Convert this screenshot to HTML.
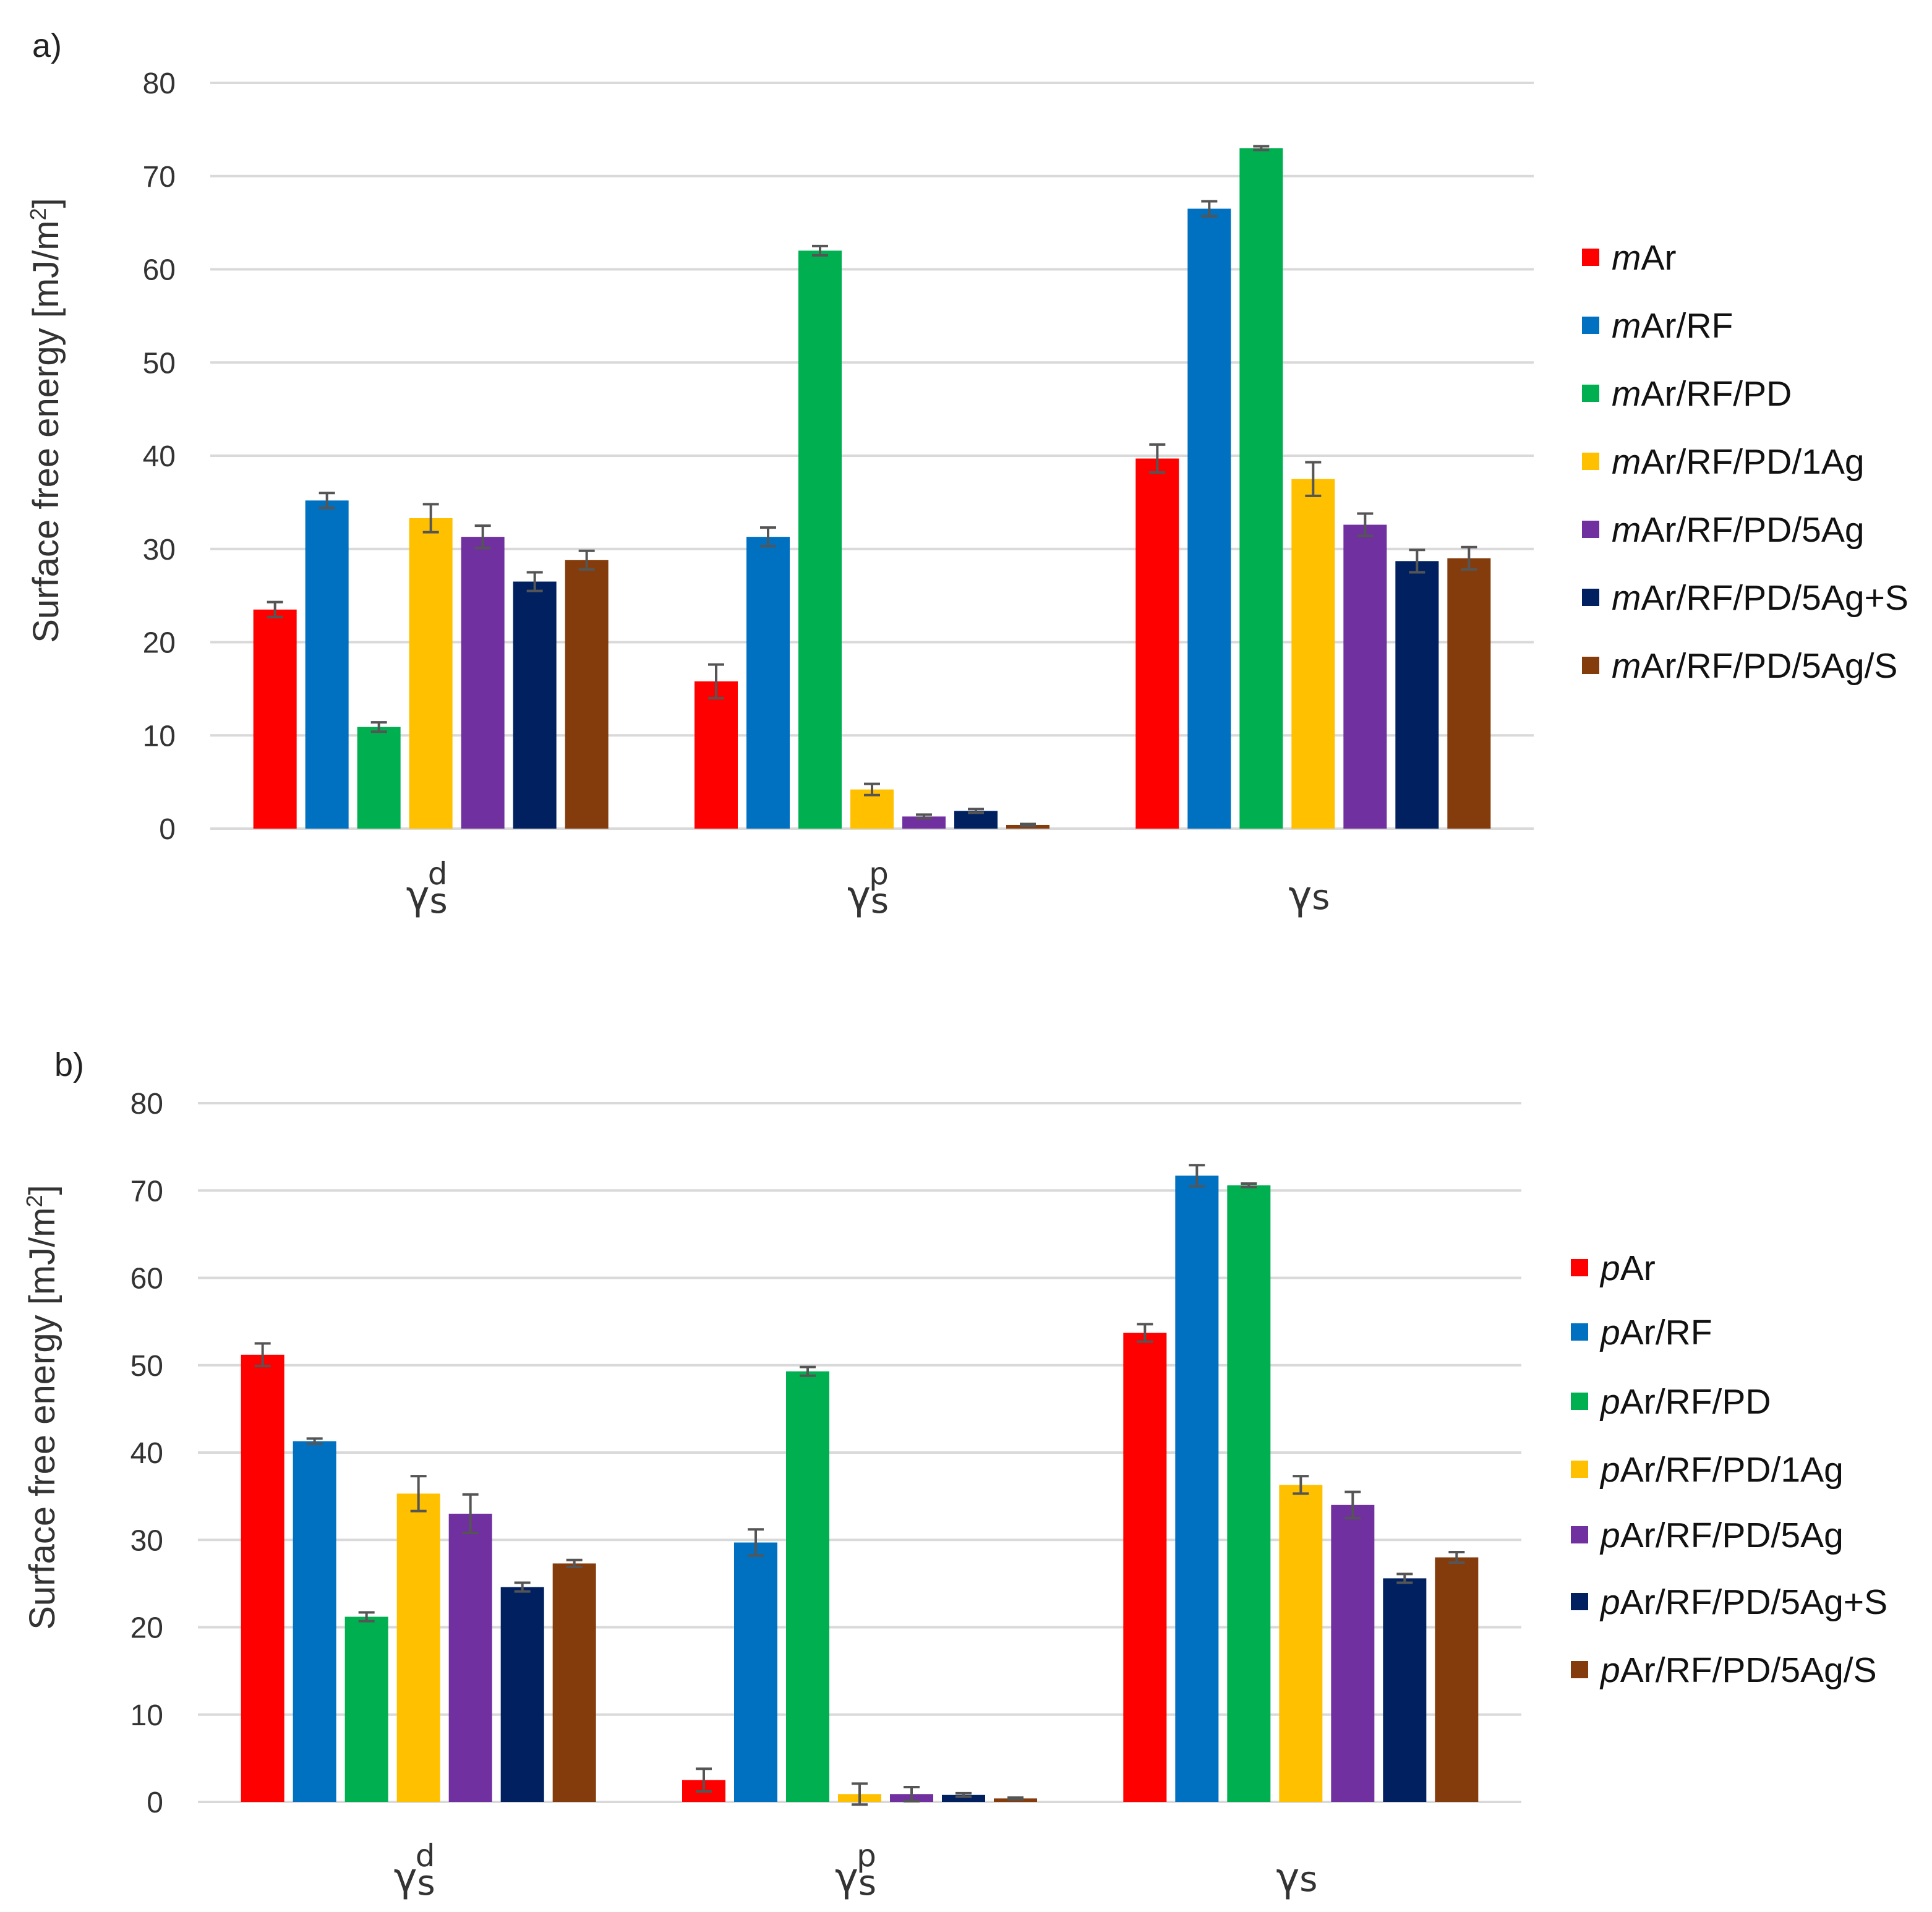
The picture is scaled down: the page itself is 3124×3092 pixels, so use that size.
<!DOCTYPE html>
<html><head><meta charset="utf-8"><style>
html,body{margin:0;padding:0;background:#fff;}
svg{display:block;font-family:"Liberation Sans",sans-serif;}
</style></head><body>
<svg id="chart" width="3124" height="3092" viewBox="0 0 3124 3092" xmlns="http://www.w3.org/2000/svg">
<rect width="3124" height="3092" fill="#fff"/>
<text x="52" y="92" font-size="54" fill="#222">a)</text>
<text x="88" y="1740" font-size="54" fill="#222">b)</text>
</svg>
<script>
const categories = ["d", "p", ""];
const colors = ["#ff0000","#0070c0","#00b050","#ffc000","#7030a0","#002060","#843c0c"];
const seriesSuffix = ["", "/RF", "/RF/PD", "/RF/PD/1Ag", "/RF/PD/5Ag", "/RF/PD/5Ag+S", "/RF/PD/5Ag/S"];
const yTicks = [0,10,20,30,40,50,60,70,80];
// panel a values [series][category]
const valuesA = [[23.5,15.8,39.7],[35.2,31.3,66.5],[10.9,62.0,73.0],[33.3,4.2,37.5],[31.3,1.3,32.6],[26.5,1.9,28.7],[28.8,0.4,29.0]];
const errorsA = [[0.8,1.8,1.5],[0.8,1.0,0.8],[0.5,0.5,0.2],[1.5,0.6,1.8],[1.2,0.2,1.2],[1.0,0.2,1.2],[1.0,0.1,1.2]];
const valuesB = [[51.2,2.5,53.7],[41.3,29.7,71.7],[21.2,49.3,70.6],[35.3,0.9,36.3],[33.0,0.9,34.0],[24.6,0.8,25.6],[27.3,0.4,28.0]];
const errorsB = [[1.3,1.3,1.0],[0.3,1.5,1.2],[0.5,0.5,0.2],[2.0,1.2,1.0],[2.2,0.8,1.5],[0.5,0.2,0.5],[0.4,0.1,0.6]];

const NS = "http://www.w3.org/2000/svg";
const svg = document.getElementById("chart");
function mk(tag, attrs, parent){const e=document.createElementNS(NS,tag);for(const k in attrs)e.setAttribute(k,attrs[k]);(parent||svg).appendChild(e);return e;}

function panel(cfg){
  const g = mk("g",{});
  
  
  const y = v => cfg.y0 - (v/80)*(cfg.y0-cfg.y80);
  const band = (cfg.x1-cfg.x0)/categories.length;
  const xc = i => cfg.x0 + band*(i+0.5);
  const bw = 70, step = 84;
  yTicks.forEach(t=>{
    const l = mk("line",{x1:cfg.x0,x2:cfg.x1,y1:y(t),y2:y(t),stroke:"#d9d9d9","stroke-width":4},g);
    
    
    const tx = mk("text",{x:cfg.x0-56,y:y(t)+17,"font-size":48,"text-anchor":"end",fill:"#333"},g);
    tx.textContent = t;
    
    
  });
  const yt = mk("text",{transform:`translate(${cfg.titleX},${cfg.titleY}) rotate(-90)`,"font-size":58,"text-anchor":"middle",fill:"#333"},g);
  yt.innerHTML = 'Surface free energy [mJ/m<tspan dy="-20" font-size="36">2</tspan><tspan dy="20">]</tspan>';
  
  
  cfg.values.forEach((ser,s)=>{
    ser.forEach((v,c)=>{
      const cx = xc(c) + (s-3)*step;
      const r = mk("rect",{x:cx-bw/2,y:y(v),width:bw,height:y(0)-y(v),fill:colors[s]},g);
      
      
      const e = cfg.errors[s][c];
      const eb = mk("path",{d:`M${cx} ${y(v+e)}V${y(v-e)}M${cx-13} ${y(v+e)}H${cx+13}M${cx-13} ${y(v-e)}H${cx+13}`,stroke:"#555","stroke-width":4,fill:"none"},g);
      
      
    });
  });
  categories.forEach((sup,i)=>{
    const t = mk("text",{x:xc(i)-40,y:cfg.labelY,"font-size":64,fill:"#333","font-family":"DejaVu Sans, sans-serif"},g);
    if(sup) t.innerHTML = `γ<tspan dy="6" font-size="56">s</tspan><tspan dx="-32" dy="-46" font-size="50">${sup}</tspan>`;
    else t.innerHTML = `γ<tspan font-size="56">s</tspan>`;
    
    
  });
  cfg.legendY.forEach((ly,s)=>{
    const sq = mk("rect",{x:cfg.legX,y:ly-14,width:28,height:28,fill:colors[s]},g);
    
    
    const t = mk("text",{x:cfg.legX+48,y:ly+20,"font-size":57,fill:"#111"},g);
    t.innerHTML = `<tspan font-style="italic">${cfg.prefix}</tspan>Ar${seriesSuffix[s]}`;
    
    
  });
}
panel({name:"panel-a",prefix:"m",x0:340,x1:2480,y0:1340,y80:134,titleX:94,titleY:680,labelY:1470,values:valuesA,errors:errorsA,
  legX:2558,legendY:[416,526,636,746,856,966,1076]});
panel({name:"panel-b",prefix:"p",x0:320,x1:2460,y0:2914,y80:1784,titleX:88,titleY:2276,labelY:3058,values:valuesB,errors:errorsB,
  legX:2540,legendY:[2050,2154,2266,2376,2482,2590,2700]});
</script>
</body></html>
